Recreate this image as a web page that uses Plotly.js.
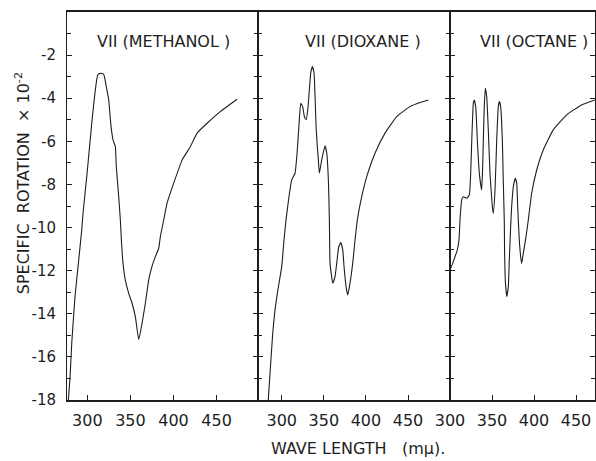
<!DOCTYPE html>
<html><head><meta charset="utf-8">
<script src="https://cdn.plot.ly/plotly-3.0.1.min.js"></script>
<style>html,body{margin:0;padding:0;background:#fff}</style>
</head><body><div id="chart" style="width:596px;height:461px"></div>
<script>
// Wavelength (mμ) and specific rotation (×10^-2)
const methanolX = [278, 280, 281.9, 285.7, 289.6, 293.5, 295, 299.7, 305.5, 309.3, 312, 315, 319, 322, 324.8, 327.5, 329.8, 332.5, 333.6, 336.4, 338.3, 339.5, 341, 344, 348, 351.9, 355.7, 359.6, 363.5, 367.3, 371.2, 375, 378.9, 382.8, 384.7, 388.6, 392.5, 400.2, 410, 419.5, 427.3, 438.9, 454.3, 473.7];
const methanolY = [-18, -16.9, -15.37, -13.2, -11.66, -10.1, -9.34, -7.48, -5.0, -3.6, -2.92, -2.84, -2.89, -3.46, -4.08, -5.32, -5.93, -6.25, -7.17, -8.57, -9.65, -10.58, -11.5, -12.43, -13.05, -13.51, -14.13, -15.2, -14.44, -13.51, -12.43, -11.8, -11.35, -10.96, -10.42, -9.65, -8.87, -7.94, -6.86, -6.25, -5.62, -5.16, -4.62, -4.05];

const dioxaneX = [284, 286.1, 289.3, 292, 294.8, 300, 302.7, 305.1, 311.9, 315.8, 318.5, 320.6, 322.6, 324.9, 326.9, 328.9, 330.9, 332.8, 334.4, 336.4, 338.4, 339.6, 340.8, 342.3, 343.5, 344.7, 347.5, 351.4, 353.5, 355.4, 356.6, 357.4, 360.6, 363.3, 365.3, 367.7, 370.1, 372.5, 374, 376.4, 378.4, 381.1, 384.3, 387.1, 389.8, 395, 401, 410.8, 422.7, 436.6, 452.4, 464.3, 474.2];
const dioxaneY = [-18, -16.76, -14.9, -13.82, -13.05, -11.8, -10.58, -9.65, -7.79, -7.48, -6.4, -5.16, -4.23, -4.39, -4.85, -5.0, -4.54, -3.62, -2.84, -2.53, -2.84, -3.92, -5.32, -6.25, -6.86, -7.48, -6.86, -6.21, -6.55, -7.79, -9.65, -11.66, -12.58, -12.28, -11.66, -10.89, -10.7, -11.04, -11.81, -12.74, -13.13, -12.58, -11.66, -10.58, -9.65, -8.57, -7.64, -6.55, -5.62, -4.85, -4.39, -4.2, -4.08];

const octaneX = [300, 303.2, 306, 308.7, 310.7, 311.9, 313.9, 315.8, 319.9, 323, 324.6, 326.2, 327.8, 328.9, 330.6, 332.5, 334.9, 337.7, 338.9, 340.5, 342, 343.7, 345.6, 347.6, 350.4, 351.5, 353.6, 355.6, 357.5, 358.7, 360.3, 362.3, 363.4, 364.6, 365.0, 365.8, 367.5, 369.4, 370.6, 372.2, 373.4, 375.4, 377.7, 379.4, 380.6, 381.3, 382.5, 384.1, 385.3, 387.3, 390.5, 393.2, 397.2, 403.2, 411, 422.9, 438.9, 456.7, 472.6];
const octaneY = [-11.97, -11.66, -11.35, -11.04, -10.58, -9.65, -8.72, -8.57, -8.64, -8.49, -7.48, -5.62, -4.23, -4.08, -4.39, -5.93, -7.48, -8.26, -7.17, -4.7, -3.54, -3.92, -5.47, -7.48, -9.03, -9.34, -8.26, -5.93, -4.39, -4.16, -4.39, -5.93, -7.79, -9.65, -11.19, -12.43, -13.2, -12.74, -11.5, -9.96, -9.03, -8.1, -7.71, -7.94, -9.03, -9.65, -10.58, -11.35, -11.66, -11.19, -10.42, -9.65, -8.41, -7.33, -6.4, -5.47, -4.77, -4.31, -4.08];

const panelTitles = ['VII (METHANOL )', 'VII (DIOXANE )', 'VII (OCTANE )'];
const xTickVals = [300, 350, 400, 450];
const yTickVals = [-2, -4, -6, -8, -10, -12, -14, -16, -18];
const yTickText = ['-2', '-4', '-6', '-8', '-10', '-12', '-14', '-16', '-18'];

const ink = '#1e1e1e';
const FONT = 'DejaVu Sans, sans-serif';
const lineStyle = {color: ink, width: 1.1, shape: 'spline', smoothing: 0.4};

const traces = [
  {x: methanolX, y: methanolY, xaxis: 'x', yaxis: 'y', mode: 'lines', line: lineStyle, hoverinfo: 'skip'},
  {x: dioxaneX, y: dioxaneY, xaxis: 'x2', yaxis: 'y2', mode: 'lines', line: lineStyle, hoverinfo: 'skip'},
  {x: octaneX, y: octaneY, xaxis: 'x3', yaxis: 'y3', mode: 'lines', line: lineStyle, hoverinfo: 'skip'}
];

function xAxis(domain, range, yref) {
  return {
    domain: domain, range: range, anchor: yref,
    showgrid: false, zeroline: false,
    showline: true, linecolor: ink, linewidth: 1.6, mirror: true,
    tickmode: 'array', tickvals: xTickVals, ticktext: xTickVals.map(String),
    ticks: 'inside', ticklen: 5, tickcolor: ink, tickwidth: 1,
    ticklabelstandoff: 5,
    tickfont: {family: FONT, size: 16, color: ink}
  };
}
function yAxis(xref, labels) {
  return {
    range: [-18, 0], anchor: xref,
    showgrid: false, zeroline: false,
    showline: true, linecolor: ink, linewidth: 1, mirror: 'ticks',
    tickmode: 'array', tickvals: yTickVals, ticktext: yTickText,
    ticks: 'inside', ticklen: 5, tickcolor: ink, tickwidth: 1.2,
    minor: {tickmode: 'linear', dtick: 1, tick0: 0, ticks: 'inside', ticklen: 4, tickcolor: ink, tickwidth: 1},
    showticklabels: labels,
    ticklabelstandoff: 7,
    tickfont: {family: FONT, size: 15, color: ink}
  };
}

function note(text, x, y, extra) {
  return Object.assign({text: text, xref: 'paper', yref: 'paper', x: x, y: y,
    xanchor: 'center', yanchor: 'middle', showarrow: false,
    font: {family: FONT, size: 16, color: ink}}, extra || {});
}

const d1 = 191 / 528, d2 = 383 / 528;
const layout = {
  width: 596, height: 461,
  margin: {l: 67, r: 1, t: 12, b: 61},
  paper_bgcolor: '#fff', plot_bgcolor: '#fff',
  showlegend: false,
  xaxis: xAxis([0, d1], [276.4, 498], 'y'),
  xaxis2: xAxis([d1, d2], [271.8, 499.9], 'y2'),
  xaxis3: xAxis([d2, 1], [300, 472.6], 'y3'),
  yaxis: yAxis('x', true),
  yaxis2: yAxis('x2', false),
  yaxis3: yAxis('x3', false),
  annotations: [
    note(panelTitles[0], 0.182, 0.923),
    note(panelTitles[1], 0.561, 0.923),
    note(panelTitles[2], 0.884, 0.923),
    note('WAVE LENGTH   (mμ).', 0.552, -0.126),
    note('SPECIFIC  ROTATION  × 10<sup>-2</sup>', -0.085, 0.559, {textangle: -90})
  ]
};

Plotly.newPlot('chart', traces, layout, {displayModeBar: false, staticPlot: true});
</script>
</body></html>
